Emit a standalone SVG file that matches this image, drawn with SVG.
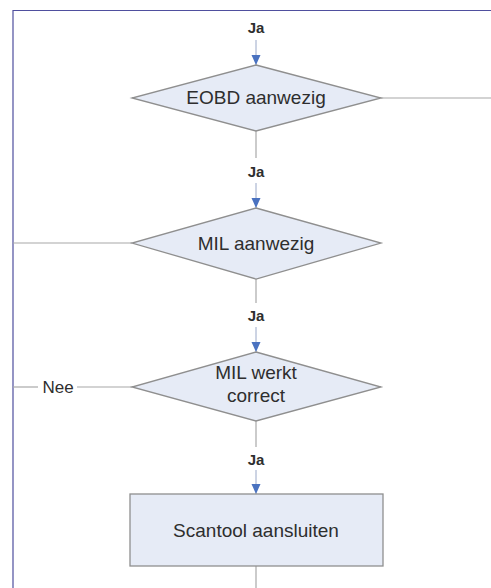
<svg xmlns="http://www.w3.org/2000/svg" width="491" height="588" viewBox="0 0 491 588">
<style>
.shape{fill:#e6ebf6;stroke:#8f8f8f;stroke-width:1.3}
.lbl{font-family:"Liberation Sans",Arial,sans-serif;font-size:19px;fill:#2e2e2e;text-anchor:middle}
.ja{font-family:"Liberation Sans",Arial,sans-serif;font-size:15px;font-weight:bold;fill:#2e2e2e;text-anchor:middle}
.nee{font-family:"Liberation Sans",Arial,sans-serif;font-size:17px;fill:#2e2e2e;text-anchor:middle}
.con{stroke:#a8a8a8;stroke-width:1.2;fill:none}
.arr{stroke:#9aa8c8;stroke-width:1;fill:none;marker-end:url(#ah)}
</style>
<defs>
<marker id="ah" markerWidth="10" markerHeight="10" refX="10" refY="4.5" orient="auto" markerUnits="userSpaceOnUse">
<path d="M0,0 L10,4.5 L0,9 Z" fill="#4a72c0"/>
</marker>
</defs>
<rect x="0" y="0" width="491" height="588" fill="#ffffff"/>
<g id="frame">
<path d="M491,10.5 H13 V588" fill="none" stroke="#4f4f9e" stroke-width="1.2"/>
</g>
<g id="connectors">
<line class="arr" x1="256" y1="40" x2="256" y2="65"/>
<line class="con" x1="381" y1="98" x2="491" y2="98"/>
<line class="con" x1="256" y1="131" x2="256" y2="158"/>
<line class="arr" x1="256" y1="183" x2="256" y2="208"/>
<line class="con" x1="13" y1="243" x2="132" y2="243"/>
<line class="con" x1="256" y1="279" x2="256" y2="303"/>
<line class="arr" x1="256" y1="327" x2="256" y2="352"/>
<line class="con" x1="13" y1="387" x2="38" y2="387"/>
<line class="con" x1="77" y1="387" x2="132" y2="387"/>
<line class="con" x1="256" y1="421" x2="256" y2="447"/>
<line class="arr" x1="256" y1="470" x2="256" y2="494"/>
<line class="con" x1="256" y1="566" x2="256" y2="588"/>
<text class="ja" x="256" y="33">Ja</text>
<text class="ja" x="256" y="177">Ja</text>
<text class="ja" x="256" y="321">Ja</text>
<text class="ja" x="256" y="465">Ja</text>
<text class="nee" x="58" y="393">Nee</text>
</g>
<g id="eobd">
<polygon class="shape" points="256,65 381,98 256,131 132,98"/>
<text class="lbl" x="256" y="104">EOBD aanwezig</text>
</g>
<g id="mil">
<polygon class="shape" points="256,208 381,243 256,279 132,243"/>
<text class="lbl" x="256" y="250">MIL aanwezig</text>
</g>
<g id="milwerkt">
<polygon class="shape" points="256,352 381,387 256,421 132,387"/>
<text class="lbl" x="256" y="379">MIL werkt</text>
<text class="lbl" x="256" y="402">correct</text>
</g>
<g id="scantool">
<rect class="shape" x="130" y="494" width="253" height="72"/>
<text class="lbl" x="256" y="537">Scantool aansluiten</text>
</g>
</svg>
